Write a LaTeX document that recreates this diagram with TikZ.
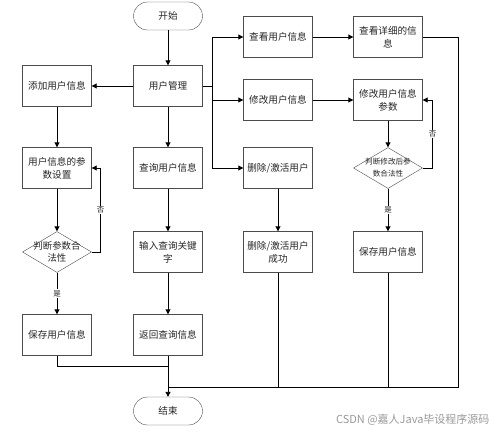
\documentclass[tikz,border=0pt]{standalone}
\usepackage{fontspec}
\setmainfont{Noto Sans CJK SC}
\usepackage{tikz}
\usetikzlibrary{arrows.meta,positioning,shapes.geometric}

\begin{document}
\begin{tikzpicture}[
    x=1pt, y=-1pt,
    box/.style={draw=black!70, fill=white, minimum width=69pt, minimum height=41pt, align=center, inner sep=1pt, font=\fontsize{9.6}{13}\selectfont, text=black!85},
    term/.style={box, rounded corners=14pt, minimum height=28pt},
    decision/.style={draw=black!70, fill=white, diamond, minimum width=69pt, minimum height=41pt, inner sep=0pt, aspect=1.7},
    dtext/.style={align=center, inner sep=0pt, text=black!85, font=\fontsize{#1}{12}\selectfont},
    tag/.style={fill=white, inner sep=1pt, font=\fontsize{7.5}{9}\selectfont, text=black!85},
    arr/.style={-{Triangle[length=5pt,width=5pt]}, line width=0.9pt},
    ln/.style={line width=0.9pt}
  ]
  \useasboundingbox (0,0) rectangle (499,432);

  % Start and main menu
  \node[term] (start) at (168,16) {开始};
  \node[box] (mgr) at (168,86) {用户管理};

  % Add branch
  \node[box] (add) at (57,86) {添加用户信息};
  \node[box] (param) at (57,168) {用户信息的参\\数设置};
  \node[decision] (chk1) at (57,252) {};
  \node[dtext=9.4] (chk1txt) at (chk1) {判断参数合\\法性};
  \node[box] (save1) at (57,335) {保存用户信息};

  % Query branch
  \node[box] (query) at (168,168) {查询用户信息};
  \node[box] (keyword) at (168,252) {输入查询关键\\字};
  \node[box] (result) at (168,335) {返回查询信息};
  \node[term] (finish) at (168,411) {结束};

  % View / edit / delete
  \node[box] (view) at (278,37) {查看用户信息};
  \node[box] (edit) at (278,100) {修改用户信息};
  \node[box] (del) at (278,168) {删除/激活用户};
  \node[box] (delok) at (278,252) {删除/激活用户\\成功};
  \node[box] (detail) at (388,37) {查看详细的信\\息};
  \node[box] (editp) at (388,100) {修改用户信息\\参数};
  \node[decision] (chk2) at (388,168) {};
  \node[dtext=7.6] (chk2txt) at (chk2) {判断修改后参\\数合法性};
  \node[box] (save2) at (388,252) {保存用户信息};

  % Join points
  \coordinate (split) at (212,86);
  \coordinate (j1) at (168,366);
  \coordinate (j2) at (168,387);
  \coordinate (rr) at (458,387);

  % Arrows
  \draw[arr] (start) -- (mgr);
  \draw[arr] (mgr) -- (add);
  \draw[arr] (mgr) -- (query);
  \draw[ln] (mgr.east) -- (split);
  \draw[arr] (split) |- (view);
  \draw[arr] (split) |- (edit);
  \draw[arr] (split) |- (del);

  \draw[arr] (add) -- (param);
  \draw[arr] (param) -- (chk1.north);
  \draw[arr] (chk1.south) -- node[tag] {是} (save1);
  \draw[arr] (chk1.east) -- ++(9,0) |- node[tag, pos=0.25] {否} (param.east);

  \draw[arr] (query) -- (keyword);
  \draw[arr] (keyword) -- (result);
  \draw[arr] (result) -- (finish);

  \draw[arr] (view) -- (detail);
  \draw[arr] (edit) -- (editp);
  \draw[arr] (del) -- (delok);
  \draw[arr] (editp) -- (chk2.north);
  \draw[arr] (chk2.south) -- node[tag] {是} (save2);
  \draw[arr] (chk2.east) -- ++(10,0) |- node[tag, pos=0.25] {否} (editp.east);

  % Lines to the end
  \draw[ln] (save1.south) |- (j1);
  \draw[ln] (detail.east) -| (rr) -- (j2);
  \draw[ln] (delok.south) -- (delok.south |- j2);
  \draw[ln] (save2.south) -- (save2.south |- j2);

  % Watermark
  \node[text=black!40, font=\fontsize{11}{13}\selectfont, anchor=east] (mark) at (493,420) {CSDN @嘉人Java毕设程序源码};
\end{tikzpicture}
\end{document}
